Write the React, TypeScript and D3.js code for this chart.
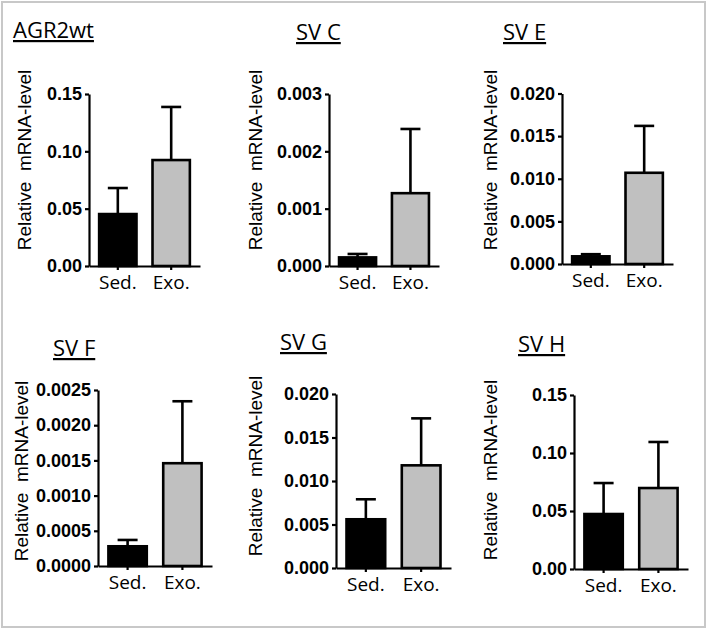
import * as React from 'react';
import * as d3 from 'd3';
import {useEffect, useRef} from 'react';

// panel data
const titles = ['AGR2wt', 'SV C', 'SV E', 'SV F', 'SV G', 'SV H'];
const groups = ['Sed.', 'Exo.'];
const sedMeans = [0.0453, 0.00015, 0.0009, 0.00028, 0.0056, 0.0474];
const sedErrors = [0.0227, 0.00006, 0.00025, 0.00009, 0.0023, 0.0267];
const exoMeans = [0.0924, 0.00127, 0.0107, 0.00146, 0.0118, 0.0698];
const exoErrors = [0.0463, 0.00112, 0.0055, 0.00088, 0.0054, 0.0397];
const yMaxes = [0.15, 0.003, 0.02, 0.0025, 0.02, 0.15];
const tickSteps = [0.05, 0.001, 0.005, 0.0005, 0.005, 0.05];
const tickFormats = ['.2f', '.3f', '.3f', '.4f', '.3f', '.2f'];
const yLabel = 'Relative  mRNA-level';

// where each panel sits on the page
interface IPanelLayout {
    axisX: number;
    yTop: number;
    yBottom: number;
    axisW: number;
    titleX: number;
    titleY: number;
    labelX: number;
    labelY: number;
}

const layouts: IPanelLayout[] = [
    {axisX: 89, yTop: 94, yBottom: 266, axisW: 111, titleX: 13, titleY: 38, labelX: 31, labelY: 160},
    {axisX: 329, yTop: 94, yBottom: 266, axisW: 110, titleX: 296, titleY: 40, labelX: 262, labelY: 160},
    {axisX: 562, yTop: 93.5, yBottom: 264, axisW: 111, titleX: 503, titleY: 40, labelX: 497, labelY: 160},
    {axisX: 98, yTop: 390, yBottom: 566, axisW: 114, titleX: 53, titleY: 356, labelX: 28, labelY: 471},
    {axisX: 336, yTop: 394, yBottom: 568, axisW: 115, titleX: 280, titleY: 350, labelX: 262, labelY: 466},
    {axisX: 574, yTop: 395, yBottom: 569, axisW: 114, titleX: 518, titleY: 352, labelX: 497, labelY: 470},
];

const fills = ['#000000', '#c0c0c0'];

function Panel({index}: { index: number }) {
    const axisRef = useRef<SVGGElement>(null);
    const xAxisRef = useRef<SVGGElement>(null);
    const lay = layouts[index];

    const yScale = d3.scaleLinear().domain([0, yMaxes[index]]).range([lay.yBottom, lay.yTop]);
    const xScale = d3.scaleBand<string>().domain(groups)
        .range([lay.axisX, lay.axisX + lay.axisW])
        .paddingInner(0.3).paddingOuter(0.19);

    const means = [sedMeans[index], exoMeans[index]];
    const errors = [sedErrors[index], exoErrors[index]];

    useEffect(() => {
        const ticks = d3.range(0, yMaxes[index] + tickSteps[index] / 2, tickSteps[index]);
        const g = d3.select(axisRef.current);
        g.selectAll('*').remove();
        g.call(d3.axisLeft(yScale).tickValues(ticks).tickFormat(d3.format(tickFormats[index]))
            .tickSizeInner(4).tickSizeOuter(0).tickPadding(3));
        g.select('.domain').attr('stroke-width', 2.2).attr('stroke', '#000');
        g.selectAll('.tick line').attr('stroke-width', 2.2).attr('stroke', '#000');
        g.selectAll('.tick text')
            .attr('font-family', '"Liberation Sans", Arial, sans-serif')
            .attr('font-weight', 'bold')
            .attr('font-size', 18)
            .attr('fill', '#000');
        g.attr('font-family', null).attr('font-size', null);

        const gx = d3.select(xAxisRef.current);
        gx.selectAll('*').remove();
        gx.call(d3.axisBottom(xScale).tickSizeInner(4).tickSizeOuter(0).tickPadding(5));
        gx.select('.domain').attr('stroke-width', 2.2).attr('stroke', '#000');
        gx.selectAll('.tick line').attr('stroke-width', 2.2).attr('stroke', '#000');
        gx.selectAll('.tick text')
            .attr('font-family', '"Open Sans", sans-serif')
            .attr('font-size', 19)
            .attr('fill', '#000')
            .attr('dy', '0.72em');
        gx.attr('font-family', null).attr('font-size', null);
    }, [index]);

    const bw = xScale.bandwidth();

    return (
        <g>
            <text x={lay.titleX} y={lay.titleY} fontFamily='"Open Sans", sans-serif' fontSize={22}
                  textDecoration="underline" fill="#000">{titles[index]}</text>
            <text transform={`translate(${lay.labelX},${lay.labelY}) rotate(-90)`} textAnchor="middle"
                  fontFamily='"Liberation Sans", Arial, sans-serif' fontSize={19} fill="#000"
                  style={{whiteSpace: 'pre'}}>{yLabel}</text>
            {groups.map((grp, i) => {
                const x0 = xScale(grp) as number;
                const cx = x0 + bw / 2;
                const top = yScale(means[i]);
                const errTop = yScale(means[i] + errors[i]);
                return (
                    <g key={grp}>
                        <line x1={cx} x2={cx} y1={top} y2={errTop} stroke="#000" strokeWidth={2.6}/>
                        <line x1={cx - 10} x2={cx + 10} y1={errTop} y2={errTop} stroke="#000" strokeWidth={2.6}/>
                        <rect x={x0} y={top} width={bw} height={lay.yBottom - top}
                              fill={fills[i]} stroke="#000" strokeWidth={2.6}/>
                    </g>
                );
            })}
            <g ref={xAxisRef} transform={`translate(0,${lay.yBottom})`}/>
            <g ref={axisRef} transform={`translate(${lay.axisX},0)`}/>
        </g>
    );
}

export default function App() {
    return (
        <svg width={708} height={629} viewBox="0 0 708 629"
             style={{position: 'absolute', left: 0, top: 0, background: '#fff'}}>
            <rect x={2} y={2} width={703} height={625} fill="#fff" stroke="#c8c8c8" strokeWidth={2}/>
            {titles.map((t, i) => <Panel key={t} index={i}/>)}
        </svg>
    );
}
